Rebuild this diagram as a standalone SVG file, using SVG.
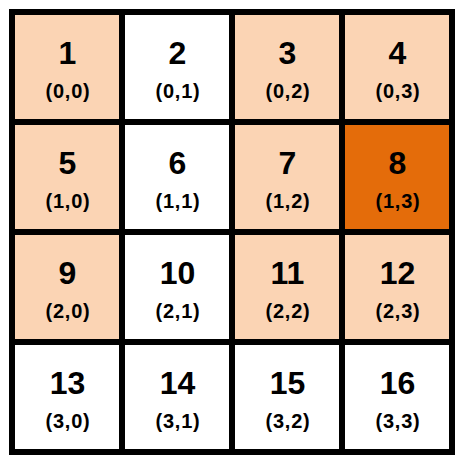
<svg xmlns="http://www.w3.org/2000/svg" width="463" height="463" viewBox="0 0 463 463">
<style>
.c{stroke:#000;stroke-width:6}
.p{fill:#FBD4B4}.w{fill:#FFFFFF}.o{fill:#E46C0A}
.n{font-family:"Liberation Sans",Arial,sans-serif;font-weight:bold;font-size:32px;text-anchor:middle;fill:#000}
.k{font-family:"Liberation Sans",Arial,sans-serif;font-weight:bold;font-size:20px;letter-spacing:0.8px;text-anchor:middle;fill:#000}
</style>
<rect width="463" height="463" fill="#fff"/>
<g id="n1"><rect class="c p" x="12" y="12" width="110" height="110"/><text class="n" x="67.5" y="64">1</text><text class="k" x="68" y="98">(0,0)</text></g>
<g id="n2"><rect class="c w" x="122" y="12" width="110" height="110"/><text class="n" x="177.5" y="64">2</text><text class="k" x="178" y="98">(0,1)</text></g>
<g id="n3"><rect class="c p" x="232" y="12" width="110" height="110"/><text class="n" x="287.5" y="64">3</text><text class="k" x="288" y="98">(0,2)</text></g>
<g id="n4"><rect class="c p" x="342" y="12" width="110" height="110"/><text class="n" x="397.5" y="64">4</text><text class="k" x="398" y="98">(0,3)</text></g>
<g id="n5"><rect class="c p" x="12" y="122" width="110" height="110"/><text class="n" x="67.5" y="174">5</text><text class="k" x="68" y="208">(1,0)</text></g>
<g id="n6"><rect class="c w" x="122" y="122" width="110" height="110"/><text class="n" x="177.5" y="174">6</text><text class="k" x="178" y="208">(1,1)</text></g>
<g id="n7"><rect class="c p" x="232" y="122" width="110" height="110"/><text class="n" x="287.5" y="174">7</text><text class="k" x="288" y="208">(1,2)</text></g>
<g id="n8"><rect class="c o" x="342" y="122" width="110" height="110"/><text class="n" x="397.5" y="174">8</text><text class="k" x="398" y="208">(1,3)</text></g>
<g id="n9"><rect class="c p" x="12" y="232" width="110" height="110"/><text class="n" x="67.5" y="284">9</text><text class="k" x="68" y="318">(2,0)</text></g>
<g id="n10"><rect class="c w" x="122" y="232" width="110" height="110"/><text class="n" x="177.5" y="284">10</text><text class="k" x="178" y="318">(2,1)</text></g>
<g id="n11"><rect class="c p" x="232" y="232" width="110" height="110"/><text class="n" x="287.5" y="284">11</text><text class="k" x="288" y="318">(2,2)</text></g>
<g id="n12"><rect class="c p" x="342" y="232" width="110" height="110"/><text class="n" x="397.5" y="284">12</text><text class="k" x="398" y="318">(2,3)</text></g>
<g id="n13"><rect class="c w" x="12" y="342" width="110" height="110"/><text class="n" x="67.5" y="394">13</text><text class="k" x="68" y="428">(3,0)</text></g>
<g id="n14"><rect class="c w" x="122" y="342" width="110" height="110"/><text class="n" x="177.5" y="394">14</text><text class="k" x="178" y="428">(3,1)</text></g>
<g id="n15"><rect class="c w" x="232" y="342" width="110" height="110"/><text class="n" x="287.5" y="394">15</text><text class="k" x="288" y="428">(3,2)</text></g>
<g id="n16"><rect class="c w" x="342" y="342" width="110" height="110"/><text class="n" x="397.5" y="394">16</text><text class="k" x="398" y="428">(3,3)</text></g>
<g id="connectors"></g>
</svg>
